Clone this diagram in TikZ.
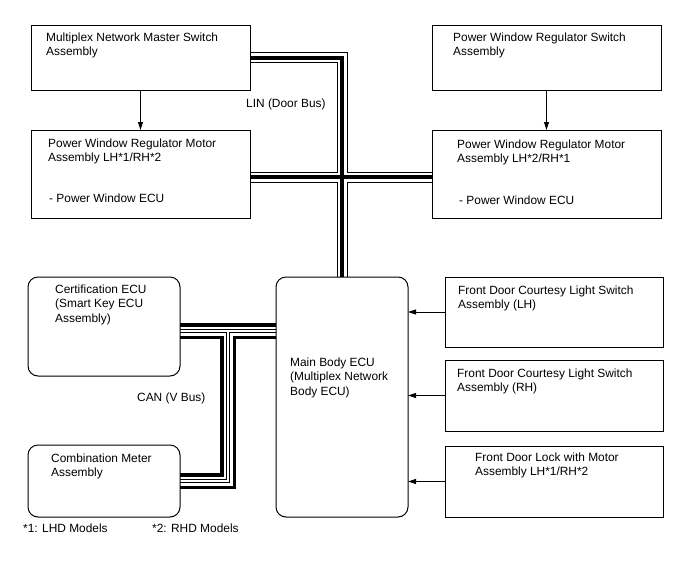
\documentclass[tikz,border=0pt]{standalone}
\usepackage{fontspec}
\setmainfont{Liberation Sans}
\usetikzlibrary{arrows.meta}
\pgfdeclarelayer{bg}
\pgfsetlayers{bg,main}
\newcommand\mlines[1]{\begin{tabular}[t]{@{}l@{}}#1\end{tabular}}
\begin{document}
\begin{tikzpicture}[x=1pt,y=-1pt,
  box/.style={draw=black, line width=1pt, inner sep=0pt, outer sep=0pt, anchor=north west},
  rbox/.style={box, rounded corners=10pt},
  txt/.style={inner sep=0pt, anchor=base west, font=\fontsize{11.9}{14.5}\selectfont},
  arr/.style={line width=1pt, -{Triangle[length=8pt,width=5pt]}},
]
\begin{pgfonlayer}{bg}
\useasboundingbox[fill=white] (0,0) rectangle (688,560);
\end{pgfonlayer}

% boxes
\node[box, minimum width=219pt, minimum height=65pt] (mnms) at (31,25) {};
\node[box, minimum width=219pt, minimum height=88pt] (pwl) at (31,130) {};
\node[box, minimum width=229pt, minimum height=65pt] (pwrs) at (432,25) {};
\node[box, minimum width=229pt, minimum height=88pt] (pwr) at (432,130) {};
\node[rbox, minimum width=152pt, minimum height=99pt] (cert) at (28,277) {};
\node[rbox, minimum width=152pt, minimum height=72pt] (combo) at (28,445) {};
\node[rbox, minimum width=132pt, minimum height=240pt] (ecu) at (276,277) {};
\node[box, minimum width=218pt, minimum height=70pt] (fdl) at (445,277) {};
\node[box, minimum width=218pt, minimum height=71pt] (fdr) at (445,360) {};
\node[box, minimum width=218pt, minimum height=71pt] (lock) at (445,446) {};

% bus coordinates
\coordinate (lintop) at (342,57.5);
\coordinate (linx) at (342,177);
\coordinate (canj) at (228,331);
\coordinate (canb) at (228,481);

\begin{pgfonlayer}{bg}
\foreach \w/\c in {11/black,9/white,4/black}{
  \draw[line width=\w pt, draw=\c, line join=miter]
    (mnms.east) -- (lintop) -- (lintop |- ecu.north)
    (pwl.east |- linx) -- (pwr.west |- linx);
}
\foreach \w/\c in {16/black,9/white,4/black,2/white}{
  \draw[line width=\w pt, draw=\c, line join=miter]
    (cert.east |- canj) -- (ecu.west |- canj)
    (canj) -- (canb) -- (combo.east |- canb);
}
\end{pgfonlayer}

% arrows
\draw[arr] (mnms.south) -- (pwl.north);
\draw[arr] (pwrs.south) -- (pwr.north);
\draw[arr] (fdl.west) -- (fdl.west -| ecu.east);
\draw[arr] (fdr.west) -- (fdr.west -| ecu.east);
\draw[arr] (lock.west) -- (lock.west -| ecu.east);

% texts
\node[txt] (t1) at (46,41) {\mlines{Multiplex Network Master Switch\\Assembly}};
\node[txt] (t2) at (48,147) {\mlines{Power Window Regulator Motor\\Assembly LH*1/RH*2}};
\node[txt] (t2b) at (49,202) {- Power Window ECU};
\node[txt] (t3) at (453,41) {\mlines{Power Window Regulator Switch\\Assembly}};
\node[txt] (t4) at (457,148) {\mlines{Power Window Regulator Motor\\Assembly LH*2/RH*1}};
\node[txt] (t4b) at (459,204) {- Power Window ECU};
\node[txt] (t5) at (55,293) {\mlines{Certification ECU\\(Smart Key ECU\\Assembly)}};
\node[txt] (t6) at (51,462) {\mlines{Combination Meter\\Assembly}};
\node[txt] (t7) at (290,366) {\mlines{Main Body ECU\\(Multiplex Network\\Body ECU)}};
\node[txt] (t8) at (458,294) {\mlines{Front Door Courtesy Light Switch\\Assembly (LH)}};
\node[txt] (t9) at (457,377) {\mlines{Front Door Courtesy Light Switch\\Assembly (RH)}};
\node[txt] (t10) at (475,461) {\mlines{Front Door Lock with Motor\\Assembly LH*1/RH*2}};
\node[txt] (lin) at (246,107) {LIN (Door Bus)};
\node[txt] (can) at (137,401) {CAN (V Bus)};
\node[txt] (f1) at (23,532) {*1: LHD Models};
\node[txt] (f2) at (152,532) {*2: RHD Models};
\end{tikzpicture}
\end{document}
